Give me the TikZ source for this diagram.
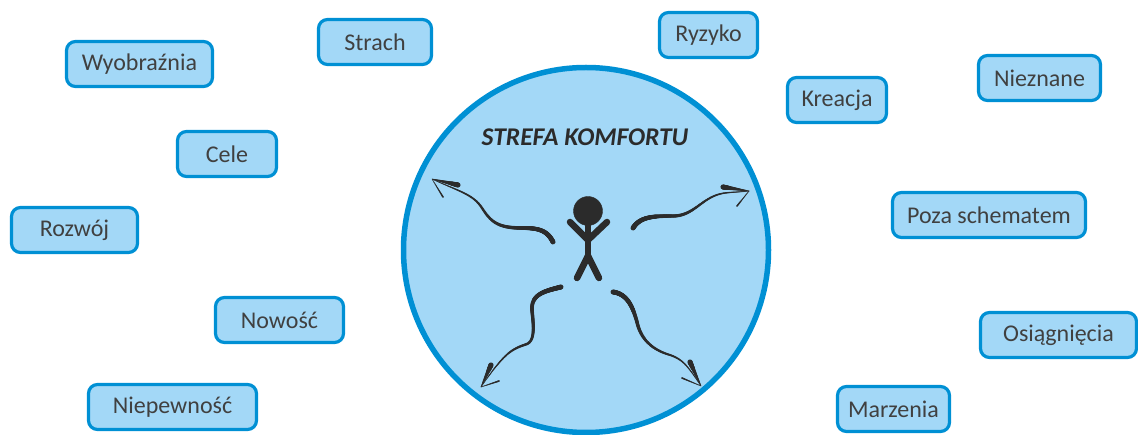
\documentclass[tikz,border=0pt]{standalone}
\usepackage{fontspec}
\setmainfont{Carlito}
\usepackage{xcolor}
\usetikzlibrary{decorations.markings}
\definecolor{boxfill}{HTML}{A3D8F7}
\definecolor{boxline}{HTML}{0090D4}
\definecolor{ink}{HTML}{2B2B2B}

\begin{document}
\begin{tikzpicture}[x=1pt,y=-1pt]
            \tikzstyle{block} = [draw=boxline, fill=boxfill, line width=3.2pt, rectangle, rounded corners=9pt, minimum height=45pt, inner sep=0pt, text=ink!90, font=\fontsize{24}{28}\selectfont]
            \tikzstyle{limb} = [draw=ink, line width=6.5pt, line cap=round]
            \tikzset{wave/.style={postaction={decorate}, decoration={markings, mark=between positions 0 and 1 step 0.4pt with {
                \pgfmathsetmacro\wavepos{\pgfkeysvalueof{/pgf/decoration/mark info/distance from start}/\pgfdecoratedpathlength}
                \fill[ink] (0,0) circle ({(#1*(1-\wavepos)+0.35)*1pt});}}}}
            \useasboundingbox (0,0) rectangle (1138,435);

            \node [draw=boxline, fill=boxfill, line width=5.5pt, circle, minimum size=365pt, inner sep=0pt] (strefa) at (586,250) {};
            \node [text=ink, font=\fontsize{25.5}{30}\selectfont\bfseries\itshape] (tytul) at (585,137) {STREFA KOMFORTU};

            \node [block, minimum width=146pt] (wyobraznia) at (139.5,64) {Wyobraźnia};
            \node [block, minimum width=99pt] (cele) at (227,154) {Cele};
            \node [block, minimum width=113pt] (strach) at (375,42) {Strach};
            \node [block, minimum width=98pt] (ryzyko) at (708.5,35) {Ryzyko};
            \node [block, minimum width=99pt] (kreacja) at (837,100) {Kreacja};
            \node [block, minimum width=122pt] (nieznane) at (1039.5,78) {Nieznane};
            \node [block, minimum width=193pt] (schemat) at (989,215) {Poza schematem};
            \node [block, minimum width=156pt] (osiagniecia) at (1058.5,335) {Osiągnięcia};
            \node [block, minimum width=112pt] (marzenia) at (893.5,409) {Marzenia};
            \node [block, minimum width=168pt] (niepewnosc) at (172.5,407) {Niepewność};
            \node [block, minimum width=128pt] (nowosc) at (279.5,320) {Nowość};
            \node [block, minimum width=126pt] (rozwoj) at (74.5,230) {Rozwój};

            % ludzik
            \node [draw=ink, fill=ink, circle, minimum size=29pt, inner sep=0pt] (glowa) at (588,211) {};
            \coordinate (szyja) at (588,240);
            \coordinate (biodro) at (588,256);
            \draw [limb] (glowa) -- (biodro);
            \draw [limb] (szyja) -- (570,222);
            \draw [limb] (szyja) -- (607,222);
            \draw [limb] (biodro) -- (577,278);
            \draw [limb] (biodro) -- (599,278);

            % strzalka lewa gorna
            \coordinate (lgstart) at (553,242);
            \coordinate (lgtip) at (432,179);
            \coordinate (lgbarba) at (458,185);
            \coordinate (lgbarbb) at (443,197);
            \path [wave=2.1] (lgstart) .. controls (547,230) and (538,228) .. (522,228) .. controls (498,228) and (491,222) .. (482,208) .. controls (473,194) and (458,191) .. (lgtip);
            \path [wave=2.2] (lgbarba) -- (lgtip);
            \path [wave=0.5] (lgbarbb) -- (lgtip);

            % strzalka prawa gorna
            \coordinate (pgstart) at (633,228);
            \coordinate (pgtip) at (749,191);
            \coordinate (pgbarba) at (723,187);
            \coordinate (pgbarbb) at (737,206);
            \path [wave=2.1] (pgstart) .. controls (640,217) and (652,216) .. (673,216) .. controls (695,216) and (702,196) .. (725,193) .. controls (733,192) and (741,192) .. (pgtip);
            \path [wave=2.2] (pgbarba) -- (pgtip);
            \path [wave=0.5] (pgbarbb) -- (pgtip);

            % strzalka lewa dolna
            \coordinate (ldstart) at (561,287);
            \coordinate (ldtip) at (481,387);
            \coordinate (ldbarba) at (491,365);
            \coordinate (ldbarbb) at (499,381);
            \path [wave=2.1] (ldstart) .. controls (545,291) and (531,294) .. (532,310) .. controls (533,322) and (536,340) .. (527,344) .. controls (512,349) and (505,352) .. (ldtip);
            \path [wave=2.2] (ldbarba) -- (ldtip);
            \path [wave=0.5] (ldbarbb) -- (ldtip);

            % strzalka prawa dolna
            \coordinate (pdstart) at (613,292);
            \coordinate (pdtip) at (701,386);
            \coordinate (pdbarba) at (690,362);
            \coordinate (pdbarbb) at (682,378);
            \path [wave=2.1] (pdstart) .. controls (628,294) and (633,308) .. (637,322) .. controls (642,345) and (660,352) .. (670,355) .. controls (685,360) and (690,370) .. (pdtip);
            \path [wave=2.2] (pdbarba) -- (pdtip);
            \path [wave=0.5] (pdbarbb) -- (pdtip);
\end{tikzpicture}
\end{document}
